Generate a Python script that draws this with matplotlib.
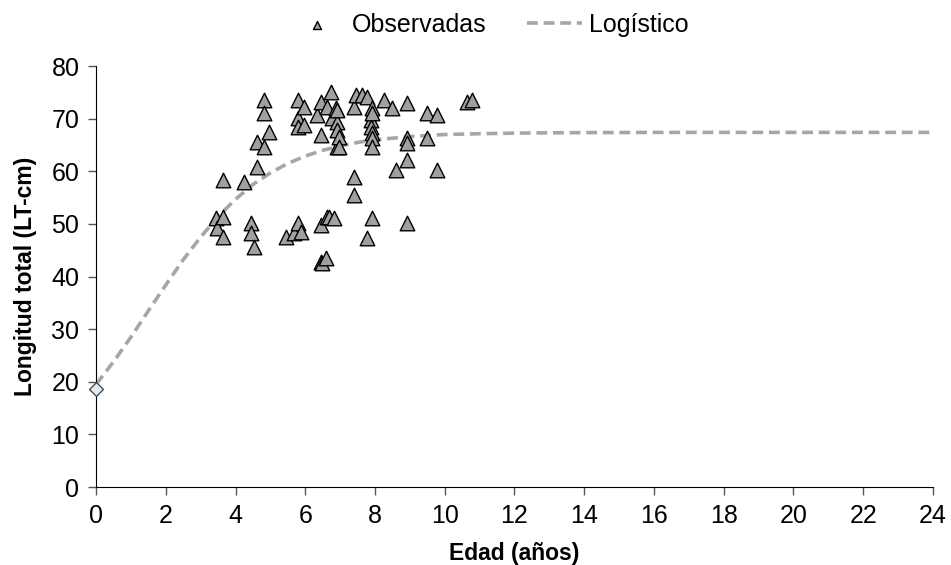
import matplotlib.pyplot as plt

plt.rcParams['font.family'] = ['Liberation Sans', 'DejaVu Sans']

# observed ages (years) and total length (cm)
edad_obs = [3.44, 3.48, 3.63, 3.63, 3.63, 4.25, 4.44, 4.44, 4.53, 4.63, 4.63,
            4.82, 4.82, 4.82, 4.96, 5.44, 5.67, 5.78, 5.78, 5.78, 5.78, 5.87,
            5.96, 5.96, 6.35, 6.44, 6.44, 6.44, 6.44, 6.49, 6.59, 6.63, 6.63,
            6.68, 6.73, 6.78, 6.82, 6.87, 6.92, 6.92, 6.92, 6.92, 6.97, 6.97,
            7.40, 7.40, 7.40, 7.45, 7.64, 7.78, 7.78, 7.88, 7.88, 7.92, 7.92,
            7.92, 7.92, 7.92, 7.92, 8.26, 8.50, 8.59, 8.92, 8.92, 8.92, 8.92,
            8.92, 9.50, 9.50, 9.78, 9.78, 10.64, 10.79]
long_obs = [51.1, 49.2, 51.3, 58.3, 47.5, 58.0, 50.2, 48.3, 45.6, 65.6, 60.8,
            73.5, 71.0, 64.6, 67.4, 47.5, 48.3, 73.5, 70.1, 68.4, 50.2, 48.5,
            72.2, 68.8, 70.7, 73.2, 66.9, 49.8, 42.8, 42.6, 43.5, 72.2, 51.3,
            51.3, 75.1, 70.1, 51.1, 72.0, 69.4, 71.6, 67.8, 64.6, 66.5, 64.6,
            72.2, 58.9, 55.5, 74.5, 74.5, 74.1, 47.3, 69.7, 68.4, 72.0, 71.1,
            67.3, 66.3, 64.6, 51.1, 73.5, 72.0, 60.2, 73.0, 66.3, 65.4, 62.1,
            50.2, 71.1, 66.3, 70.7, 60.2, 73.2, 73.5]

# logistic curve
edad_log = [0, 0.5, 1, 1.5, 2, 2.5, 3, 3.5, 4, 4.5, 5, 5.5, 6, 6.5, 7, 7.5,
            8, 8.5, 9, 9.5, 10, 11, 12, 13, 14, 16, 18, 20, 22, 24]
long_log = [19.5, 23.8, 28.5, 33.5, 38.4, 43.2, 47.5, 51.4, 54.7, 57.5, 59.7,
            61.5, 62.9, 64.0, 64.8, 65.5, 66.0, 66.3, 66.6, 66.8, 67.0, 67.15,
            67.26, 67.32, 67.36, 67.4, 67.4, 67.4, 67.4, 67.4]

# length at age 0
edad_0 = [0]
long_0 = [18.7]

fig = plt.figure(figsize=(9.51, 5.65), dpi=100)
ax = fig.add_axes([0.101, 0.138, 0.880, 0.745])

ax.scatter(edad_obs, long_obs, marker='^', s=110, facecolor='#a0a0a0',
           edgecolor='black', linewidth=1.0, zorder=3, label='Observadas')
ax.plot(edad_log, long_log, color='#a6a6a6', linestyle=(0, (3, 1.6)),
        linewidth=2.6, zorder=2, label='Logístico')
ax.scatter(edad_0, long_0, marker='D', s=50, facecolor='#dce9f7',
           edgecolor='#404040', linewidth=0.9, zorder=4, clip_on=False)

ax.set_xlim(0, 24)
ax.set_ylim(0, 80)
ax.set_xticks(range(0, 25, 2))
ax.set_yticks(range(0, 81, 10))
ax.spines['top'].set_visible(False)
ax.spines['right'].set_visible(False)
ax.tick_params(direction='out', length=6, width=1, labelsize=18,
               color='#555555', pad=6)

ax.set_xlabel('Edad (años)', fontsize=16.5, fontweight='bold', labelpad=10)
ax.set_ylabel('Longitud total (LT-cm)', fontsize=16.5, fontweight='bold',
              labelpad=10)

ax.legend(loc='lower center', bbox_to_anchor=(0.47, 1.04), ncol=2, frameon=False,
          fontsize=18, handlelength=2.2, handletextpad=0.3, columnspacing=1.6,
          markerscale=0.55, borderaxespad=0.1)

fig.savefig('out.png', dpi=100)
